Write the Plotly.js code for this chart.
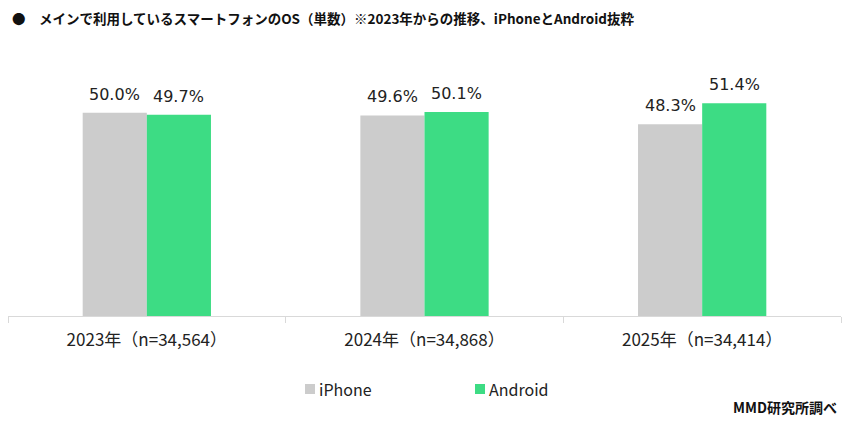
<!DOCTYPE html>
<html><head><meta charset="utf-8">
<script src="https://cdn.plot.ly/plotly-3.0.1.min.js"></script>
<style>html,body{margin:0;padding:0;background:#fff}#chart{width:848px;height:422px}</style>
</head><body><div id="chart"></div>
<script>
const categories = ["2023年（n=34,564）", "2024年（n=34,868）", "2025年（n=34,414）"];
const iphoneValues = [50.0, 49.6, 48.3];
const androidValues = [49.7, 50.1, 51.4];
const seriesNames = ["iPhone", "Android"];
const colors = ["#cccccc", "#3ddc84"];
const font = "'Noto Sans CJK JP', 'Noto Sans', sans-serif";
const numFont = "'DejaVu Sans', sans-serif";

const W = 848, H = 422;
const margin = {l: 8, r: 7, t: 72, b: 106};
const bargap = 0.538;
const plotW = W - margin.l - margin.r, plotH = H - margin.t - margin.b;
const barPx = plotW / categories.length * (1 - bargap) / 2;

const mk = (name, vals, color) => ({
  type: "bar", name: name, x: categories, y: vals,
  marker: {color: color}, hoverinfo: "skip", showlegend: false
});
const series = [iphoneValues, androidValues];
const data = series.map((v, i) => mk(seriesNames[i], v, colors[i]));

const annotations = [];
series.forEach((vals, si) => {
  vals.forEach((v, ci) => {
    annotations.push({
      x: categories[ci], y: v, xref: "x", yref: "y",
      text: v.toFixed(1) + "%", showarrow: false,
      xanchor: "center", yanchor: "bottom",
      xshift: (si === 0 ? -1 : 1) * barPx / 2, yshift: 7,
      font: {size: 16, color: "#222", family: numFont}
    });
  });
});
annotations.push(
  {text: "<b>●　メインで利用しているスマートフォンのOS（単数）※2023年からの推移、iPhoneとAndroid抜粋</b>",
   xref: "paper", yref: "paper", x: 0, xanchor: "left", y: 1, yanchor: "middle",
   yshift: margin.t - 18, xshift: 2, showarrow: false, font: {size: 13.5, color: "#111", family: font}},
  {text: "<b>MMD研究所調べ</b>", xref: "paper", yref: "paper", x: 1, xanchor: "right",
   y: 0, yanchor: "middle", yshift: -(407 - (H - margin.b)), xshift: -2, showarrow: false,
   font: {size: 14, color: "#111", family: font}}
);

// manual legend
const legendX = [305, 475];
const legendY = 389;
const shapes = [];
seriesNames.forEach((n, i) => {
  const px = (legendX[i] - margin.l) / plotW;
  const py = ((H - margin.b) - legendY) / plotH;
  shapes.push({type: "rect", xref: "paper", yref: "paper", xsizemode: "pixel", ysizemode: "pixel",
    xanchor: px, yanchor: py, x0: 0, x1: 10, y0: -5, y1: 5, fillcolor: colors[i], line: {width: 0}});
  annotations.push({text: n, xref: "paper", yref: "paper", x: px, y: py, xanchor: "left", yanchor: "middle",
    xshift: 12, showarrow: false, font: {size: 16, color: "#222", family: font}});
});

const layout = {
  width: W, height: H, margin: margin,
  barmode: "group", bargap: bargap, bargroupgap: 0,
  paper_bgcolor: "#fff", plot_bgcolor: "#fff",
  font: {family: font, color: "#222"},
  showlegend: false,
  xaxis: {type: "category", showline: true, linecolor: "#d9d9d9", linewidth: 1,
          ticks: "outside", tickson: "boundaries", ticklen: 6, tickcolor: "#d9d9d9",
          ticklabelstandoff: 9,
          tickfont: {size: 17, color: "#222", family: font}, showgrid: false},
  yaxis: {range: [20, 56], visible: false, showgrid: false, zeroline: false},
  annotations: annotations, shapes: shapes
};
Plotly.newPlot("chart", data, layout, {displayModeBar: false, staticPlot: true});
</script></body></html>
